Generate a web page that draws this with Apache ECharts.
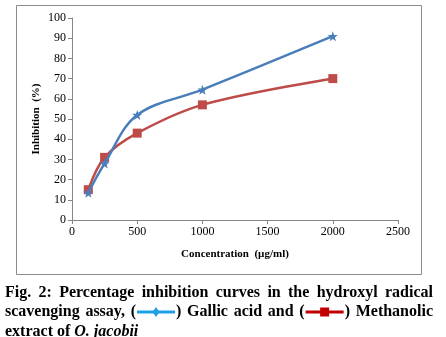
<!DOCTYPE html>
<html><head><meta charset="utf-8">
<script src="https://cdn.jsdelivr.net/npm/echarts@6/dist/echarts.min.js"></script>
<style>html,body{margin:0;padding:0;background:#fff}#c{width:446px;height:337px}</style>
</head><body><div id="c"></div>
<script>
var concentrations = [125, 250, 500, 1000, 2000];
var gallicAcid = [13.5, 28, 52, 64.5, 91];
var methanolic = [15, 31, 43, 57, 70];
var xTicks = [0, 500, 1000, 1500, 2000, 2500];
var yTicks = [0, 10, 20, 30, 40, 50, 60, 70, 80, 90, 100];

var serif = '"Liberation Serif", "Times New Roman", serif';
var chart = echarts.init(document.getElementById('c'), null, {renderer: 'canvas'});

function pairs(xs, ys) { return xs.map(function (x, i) { return [x, ys[i]]; }); }

var cv = document.createElement('canvas').getContext('2d');
cv.font = 'bold 16px ' + serif;
var L = 5, R = 433, SYMW = 40;
function tokW(t) {
  if (t.sym) return cv.measureText('(').width * 2 + SYMW;
  return cv.measureText(t.text).width;
}
var graphics = [{
  type: 'rect', shape: {x: 16.5, y: 5.5, width: 405, height: 269},
  style: {fill: 'none', stroke: '#8c8c8c', lineWidth: 1}, silent: true
}];
function justify(tokens, y) {
  var total = 0;
  tokens.forEach(function (t) { total += tokW(t); });
  var gap = (R - L - total) / (tokens.length - 1);
  var x = L;
  tokens.forEach(function (t) {
    var w = tokW(t);
    if (t.sym) {
      var pw = cv.measureText('(').width;
      graphics.push({type: 'text', x: x, y: y, style: {text: '(', font: 'bold 16px ' + serif, fill: '#000', verticalAlign: 'middle'}});
      graphics.push({type: 'text', x: x + pw + SYMW, y: y, style: {text: ')', font: 'bold 16px ' + serif, fill: '#000', verticalAlign: 'middle'}});
      var sx = x + pw + 1, ex = x + pw + SYMW - 1, cx = (sx + ex) / 2;
      graphics.push({type: 'line', shape: {x1: sx, y1: y, x2: ex, y2: y}, style: {stroke: t.sym, lineWidth: 3}});
      if (t.shape === 'diamond') {
        graphics.push({type: 'polygon', shape: {points: [[cx, y - 5], [cx + 3.5, y], [cx, y + 5], [cx - 3.5, y]]}, style: {fill: t.sym}});
      } else {
        graphics.push({type: 'rect', shape: {x: cx - 4.5, y: y - 4.5, width: 9, height: 9}, style: {fill: t.sym}});
      }
    } else {
      graphics.push({type: 'text', x: x, y: y, style: {text: t.text, font: 'bold 16px ' + serif, fill: '#000', verticalAlign: 'middle'}});
    }
    x += w + gap;
  });
}
justify('Fig. 2: Percentage inhibition curves in the hydroxyl radical'.split(' ').map(function (w) { return {text: w}; }), 293);
justify([{text: 'scavenging'}, {text: 'assay,'}, {sym: '#1ea0e6', shape: 'diamond'}, {text: 'Gallic'}, {text: 'acid'}, {text: 'and'}, {sym: '#c00000', shape: 'square'}, {text: 'Methanolic'}], 312);
graphics.push({type: 'text', x: 5, y: 332, style: {
  text: '{n|extract of }{i|O. jacobii}', verticalAlign: 'middle',
  rich: {n: {font: 'bold 16px ' + serif, fill: '#000'}, i: {font: 'italic bold 16px ' + serif, fill: '#000'}}
}});

var starPath = 'path://M0,-10 L2.4,-3.3 L9.5,-3.1 L3.9,1.3 L5.9,8.1 L0,4.1 L-5.9,8.1 L-3.9,1.3 L-9.5,-3.1 L-2.4,-3.3 Z';

chart.setOption({
  animation: false,
  grid: {left: 72, right: 48, top: 18, bottom: 117},
  xAxis: {
    type: 'value', min: 0, max: 2500, interval: 500,
    name: 'Concentration  (µg/ml)', nameLocation: 'middle', nameGap: 29,
    nameTextStyle: {fontFamily: serif, fontWeight: 'bold', fontSize: 11, color: '#000'},
    axisLine: {show: true, lineStyle: {color: '#868686'}},
    axisTick: {show: true, inside: false, length: 4, lineStyle: {color: '#868686'}},
    axisLabel: {fontFamily: serif, fontSize: 12, color: '#000', margin: 6,
      formatter: function (v) { return xTicks.indexOf(v) >= 0 ? String(v) : ''; }},
    splitLine: {show: false}
  },
  yAxis: {
    type: 'value', min: 0, max: 100, interval: 10,
    name: 'Inhibition  (%)', nameLocation: 'middle', nameGap: 30, nameRotate: 90,
    nameMoveOverlap: false,
    nameTextStyle: {fontFamily: serif, fontWeight: 'bold', fontSize: 11, color: '#000'},
    axisLine: {show: true, lineStyle: {color: '#868686'}},
    axisTick: {show: true, inside: false, length: 4, lineStyle: {color: '#868686'}},
    axisLabel: {fontFamily: serif, fontSize: 12, color: '#000', margin: 6,
      formatter: function (v) { return yTicks.indexOf(v) >= 0 ? String(v) : ''; }},
    splitLine: {show: false}
  },
  series: [{
    name: 'Gallic acid', type: 'line', smooth: 0.35,
    data: pairs(concentrations, gallicAcid),
    symbol: starPath, symbolSize: 10,
    lineStyle: {color: '#4a7ebb', width: 2.5},
    itemStyle: {color: '#4a7ebb'}, z: 3
  }, {
    name: 'Methanolic extract', type: 'line', smooth: 0.35,
    data: pairs(concentrations, methanolic),
    symbol: 'rect', symbolSize: 9,
    lineStyle: {color: '#be4b48', width: 2.5},
    itemStyle: {color: '#be4b48'}, z: 2
  }],
  graphic: graphics
});
</script></body></html>
